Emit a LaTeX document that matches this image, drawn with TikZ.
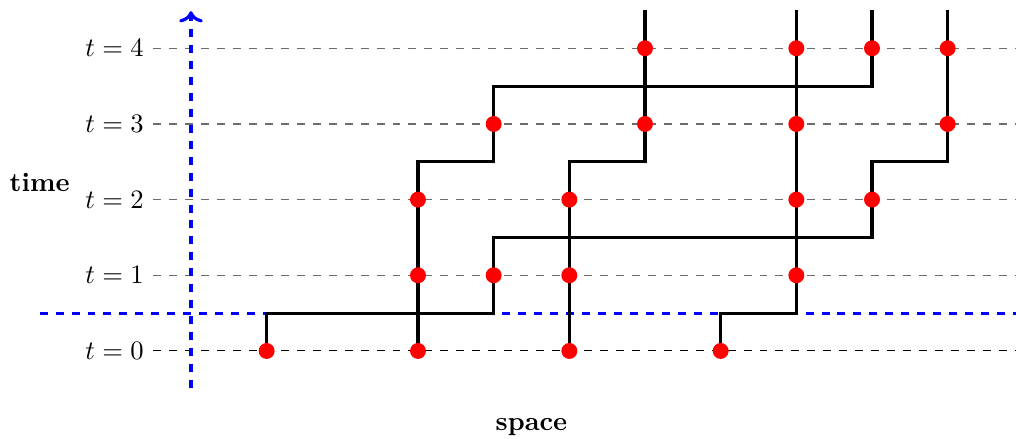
\documentclass[tikz,border=0pt]{standalone}
\usetikzlibrary{arrows.meta,backgrounds}
\begin{document}
\begin{tikzpicture}[
  grid/.style={dashed, gray!85!black, line width=0.5pt},
  gridzero/.style={dashed, black, line width=0.4pt},
  axis/.style={dashed, blue, very thick},
  world/.style={black, very thick},
  dot/.style={circle, fill=red, inner sep=0pt, minimum size=6pt},
  lbl/.style={anchor=east, inner sep=3.33pt}
]
\useasboundingbox (-2.524,-1.163) rectangle (10.903,4.638);
% dots
\node[dot] (a0) at (1,0) {};
\node[dot] (a1) at (4,1) {};
\node[dot] (a2) at (9,2) {};
\node[dot] (a3) at (10,3) {};
\node[dot] (a4) at (10,4) {};
\node[dot] (b0) at (3,0) {};
\node[dot] (b1) at (3,1) {};
\node[dot] (b2) at (3,2) {};
\node[dot] (b3) at (4,3) {};
\node[dot] (b4) at (9,4) {};
\node[dot] (c0) at (5,0) {};
\node[dot] (c1) at (5,1) {};
\node[dot] (c2) at (5,2) {};
\node[dot] (c3) at (6,3) {};
\node[dot] (c4) at (6,4) {};
\node[dot] (e0) at (7,0) {};
\node[dot] (e1) at (8,1) {};
\node[dot] (e2) at (8,2) {};
\node[dot] (e3) at (8,3) {};
\node[dot] (e4) at (8,4) {};
% axis labels
\node[font=\bfseries] (time) at (-2,2.22) {time};
\node[font=\bfseries] (space) at (4.5,-1.0) {space};
\begin{scope}[on background layer]
% grid lines and labels
\foreach \t in {1,2,3,4}{
  \node[lbl] (l\t) at (-0.5,\t) {$t=\t$};
  \coordinate (r\t) at (10.903,\t);
  \draw[grid] (l\t.east) -- (r\t);
}
\node[lbl] (l0) at (-0.5,0) {$t=0$};
\coordinate (r0) at (10.903,0);
\draw[gridzero] (l0.east) -- (r0);
% axes
\coordinate (vb) at (0,-0.49);
\coordinate (vt) at (0,4.49);
\coordinate (hl) at (-2,0.5);
\coordinate (hr) at (10.903,0.5);
\draw[axis,->] (vb) -- (vt);
\draw[axis] (hl) -- (hr);
% world lines
\draw[world] (a0.center) -- ++(0,0.5) -| (a1.center) -- ++(0,0.5) -| (a2.center)
  -- ++(0,0.5) -| (a3.center) -- (a4.center) -- ++(0,0.5);
\draw[world] (b0.center) -- (b1.center) -- (b2.center) -- ++(0,0.5) -| (b3.center)
  -- ++(0,0.5) -| (b4.center) -- ++(0,0.5);
\draw[world] (c0.center) -- (c1.center) -- (c2.center) -- ++(0,0.5) -| (c3.center)
  -- (c4.center) -- ++(0,0.5);
\draw[world] (e0.center) -- ++(0,0.5) -| (e1.center) -- (e2.center) -- (e3.center)
  -- (e4.center) -- ++(0,0.5);
\end{scope}
\end{tikzpicture}
\end{document}
